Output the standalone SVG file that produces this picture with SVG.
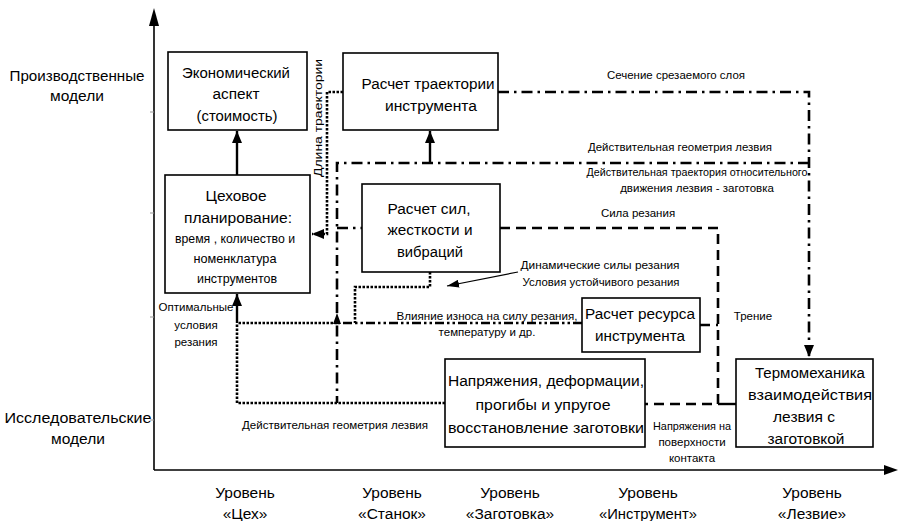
<svg xmlns="http://www.w3.org/2000/svg" width="899" height="521" viewBox="0 0 899 521">
<style>
text{font-family:"Liberation Sans",Arial,sans-serif;fill:#000;text-anchor:middle}
.b{font-size:15.5px}
.m{font-size:13px}
.s{font-size:11.5px}
.box{fill:#fff;stroke:#000;stroke-width:1.6}
.ax{fill:none;stroke:#000;stroke-width:1.6}
.sol{fill:none;stroke:#000;stroke-width:2.4}
.dot{fill:none;stroke:#000;stroke-width:2.6;stroke-dasharray:2.5 1.5}
.dd{fill:none;stroke:#000;stroke-width:2.6;stroke-dasharray:11 5 2.5 5}
.dsh{fill:none;stroke:#000;stroke-width:2.6;stroke-dasharray:10 6}
.ddd{fill:none;stroke:#000;stroke-width:2.6;stroke-dasharray:9 3 2.5 3 2.5 3}
.thin{fill:none;stroke:#000;stroke-width:1.2}
.tick{stroke:#999;stroke-width:1}
</style>
<defs>
<marker id="arr" viewBox="0 0 12 10" markerWidth="12" markerHeight="10" refX="12" refY="5" orient="auto" markerUnits="userSpaceOnUse">
<path d="M0,0 L12,5 L0,10 z" fill="#000"/>
</marker>
<marker id="arrs" viewBox="0 0 12 8" markerWidth="12" markerHeight="8" refX="12" refY="4" orient="auto" markerUnits="userSpaceOnUse">
<path d="M0,0 L12,4 L0,8 z" fill="#000"/>
</marker>
</defs>
<rect width="899" height="521" fill="#fff"/>

<g id="axes">
<line class="ax" x1="154" y1="470" x2="154" y2="24"/>
<polygon points="154,8 149,26 159,26" fill="#000"/>
<line class="ax" x1="154" y1="470" x2="884" y2="470"/>
<polygon points="898,470 884,465 884,475" fill="#000"/>
<line class="tick" x1="150" y1="112" x2="154" y2="112"/>
<line class="tick" x1="150" y1="213" x2="154" y2="213"/>
<line class="tick" x1="150" y1="317" x2="154" y2="317"/>
<line class="tick" x1="150" y1="420" x2="154" y2="420"/>
<text class="b" x="77" y="81" textLength="135" lengthAdjust="spacingAndGlyphs">Производственные</text>
<text class="b" x="77" y="101">модели</text>
<text class="b" x="78" y="423" textLength="147" lengthAdjust="spacingAndGlyphs">Исследовательские</text>
<text class="b" x="78" y="444">модели</text>
<text class="b" x="245" y="498">Уровень</text>
<text class="b" x="245" y="519">«Цех»</text>
<text class="b" x="392" y="498">Уровень</text>
<text class="b" x="392" y="519">«Станок»</text>
<text class="b" x="510" y="498">Уровень</text>
<text class="b" x="510" y="519">«Заготовка»</text>
<text class="b" x="648" y="498">Уровень</text>
<text class="b" x="648" y="519" textLength="98" lengthAdjust="spacingAndGlyphs">«Инструмент»</text>
<text class="b" x="812" y="498">Уровень</text>
<text class="b" x="812" y="519">«Лезвие»</text>
</g>

<g id="connectors">
<path class="sol" d="M237 175 L237 131" marker-end="url(#arr)"/>
<path class="dot" d="M343 92 L327 92 L327 234 L312 234" marker-end="url(#arr)"/>
<path class="dd" d="M498 92 L809 92 L809 357" marker-end="url(#arr)"/>
<path class="dd" d="M809 163 L337 163 L337 403"/>
<path class="sol" d="M430 163 L430 131" marker-end="url(#arr)"/>
<path class="dd" d="M337 228 L362 228"/>
<path class="dsh" d="M500 228 L718 228 L718 404 L645 404"/>
<path class="dsh" d="M700 325 L718 325"/>
<path class="sol" d="M718 404 L736 404"/>
<path class="ddd" d="M582 323 L337 323"/>
<path class="dot" d="M337 323 L237 323"/>
<path class="sol" d="M237 323 L237 294" marker-end="url(#arr)"/>
<polygon points="337,313 333,324 341,324" fill="#000"/>
<path class="dot" d="M445 403 L237 403 L237 323"/>
<path class="dot" d="M430 272 L430 287 L355 287 L355 323"/>
<path class="thin" d="M518 272 L447 286" marker-end="url(#arrs)"/>
<text class="s" x="322" y="118" transform="rotate(-90 322 118)" textLength="118" lengthAdjust="spacingAndGlyphs">Длина траектории</text>
<text class="s" x="676" y="79" textLength="138" lengthAdjust="spacingAndGlyphs">Сечение срезаемого слоя</text>
<text class="s" x="680" y="151" textLength="184" lengthAdjust="spacingAndGlyphs">Действительная геометрия лезвия</text>
<text class="s" x="697" y="176" textLength="221" lengthAdjust="spacingAndGlyphs">Действительная траектория относительного</text>
<text class="s" x="697" y="192">движения лезвия - заготовка</text>
<text class="s" x="638" y="217">Сила резания</text>
<text class="s" x="600" y="269" textLength="159" lengthAdjust="spacingAndGlyphs">Динамические силы резания</text>
<text class="s" x="601" y="286" textLength="157" lengthAdjust="spacingAndGlyphs">Условия устойчивого резания</text>
<text class="s" x="487" y="320" textLength="181" lengthAdjust="spacingAndGlyphs">Влияние износа на силу резания,</text>
<text class="s" x="487" y="336">температуру и др.</text>
<text class="s" x="753" y="320">Трение</text>
<text class="s" x="196" y="311" textLength="75" lengthAdjust="spacingAndGlyphs">Оптимальные</text>
<text class="s" x="196" y="329">условия</text>
<text class="s" x="196" y="346">резания</text>
<text class="s" x="335" y="429" textLength="186" lengthAdjust="spacingAndGlyphs">Действительная геометрия лезвия</text>
<text class="s" x="692" y="430" textLength="78" lengthAdjust="spacingAndGlyphs">Напряжения на</text>
<text class="s" x="692" y="446">поверхности</text>
<text class="s" x="692" y="462">контакта</text>
</g>

<g id="n-econ">
<rect class="box" x="168" y="52" width="139" height="78"/>
<text class="b" x="236" y="78" textLength="108" lengthAdjust="spacingAndGlyphs">Экономический</text>
<text class="b" x="236" y="99" textLength="47" lengthAdjust="spacingAndGlyphs">аспект</text>
<text class="b" x="237" y="121" textLength="81" lengthAdjust="spacingAndGlyphs">(стоимость)</text>
</g>
<g id="n-traj">
<rect class="box" x="343" y="53" width="155" height="77"/>
<text class="b" x="428" y="89" textLength="133" lengthAdjust="spacingAndGlyphs">Расчет траектории</text>
<text class="b" x="431" y="111" textLength="92" lengthAdjust="spacingAndGlyphs">инструмента</text>
</g>
<g id="n-ceh">
<rect class="box" x="165" y="175" width="145" height="118"/>
<text class="b" x="236" y="201" textLength="61" lengthAdjust="spacingAndGlyphs">Цеховое</text>
<text class="b" x="238" y="223" textLength="108" lengthAdjust="spacingAndGlyphs">планирование:</text>
<text class="m" x="235" y="243" textLength="120" lengthAdjust="spacingAndGlyphs">время , количество и</text>
<text class="m" x="235" y="263" textLength="83" lengthAdjust="spacingAndGlyphs">номенклатура</text>
<text class="m" x="237" y="283" textLength="80" lengthAdjust="spacingAndGlyphs">инструментов</text>
</g>
<g id="n-sil">
<rect class="box" x="362" y="184" width="138" height="88"/>
<text class="b" x="429" y="214" textLength="83" lengthAdjust="spacingAndGlyphs">Расчет сил,</text>
<text class="b" x="430" y="235" textLength="85" lengthAdjust="spacingAndGlyphs">жесткости и</text>
<text class="b" x="430" y="257" textLength="66" lengthAdjust="spacingAndGlyphs">вибраций</text>
</g>
<g id="n-res">
<rect class="box" x="582" y="298" width="118" height="54"/>
<text class="b" x="640" y="319" textLength="110" lengthAdjust="spacingAndGlyphs">Расчет ресурса</text>
<text class="b" x="640" y="341" textLength="90" lengthAdjust="spacingAndGlyphs">инструмента</text>
</g>
<g id="n-napr">
<rect class="box" x="445" y="359" width="200" height="88"/>
<text class="b" x="546" y="386" textLength="196" lengthAdjust="spacingAndGlyphs">Напряжения, деформации,</text>
<text class="b" x="543" y="410" textLength="135" lengthAdjust="spacingAndGlyphs">прогибы и упругое</text>
<text class="b" x="546" y="433" textLength="196" lengthAdjust="spacingAndGlyphs">восстановление заготовки</text>
</g>
<g id="n-term">
<rect class="box" x="736" y="359" width="137" height="88"/>
<text class="b" x="810" y="378" textLength="110" lengthAdjust="spacingAndGlyphs">Термомеханика</text>
<text class="b" x="810" y="400" textLength="124" lengthAdjust="spacingAndGlyphs">взаимодействия</text>
<text class="b" x="804" y="422" textLength="62" lengthAdjust="spacingAndGlyphs">лезвия с</text>
<text class="b" x="806" y="444" textLength="77" lengthAdjust="spacingAndGlyphs">заготовкой</text>
</g>
</svg>
